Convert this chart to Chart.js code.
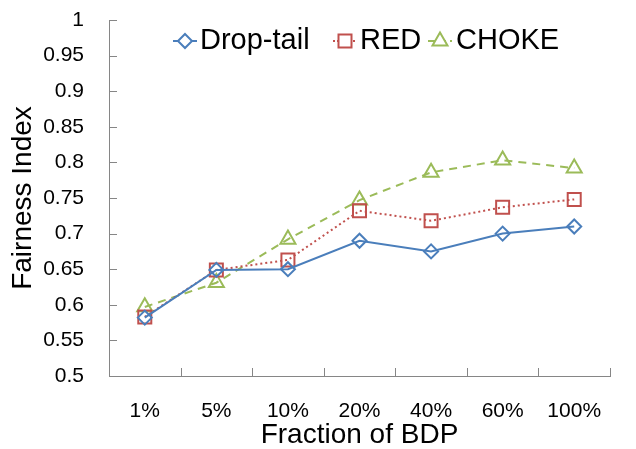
<!DOCTYPE html>
<html>
<head>
<meta charset="utf-8">
<script src="https://cdn.jsdelivr.net/npm/chart.js@4/dist/chart.umd.min.js"></script>
<style>
  html, body { margin: 0; padding: 0; background: #fff; }
  #wrap { width: 636px; height: 449px; }
</style>
</head>
<body>
<div id="wrap"><canvas id="myChart" width="636" height="449"></canvas></div>
<script>
/* data */
var fractions = ['1%', '5%', '10%', '20%', '40%', '60%', '100%'];
var dropTail = [0.582, 0.649, 0.650, 0.690, 0.675, 0.700, 0.710];
var red      = [0.583, 0.649, 0.663, 0.732, 0.718, 0.737, 0.748];
var choke    = [0.597, 0.631, 0.692, 0.747, 0.786, 0.803, 0.792];
var seriesNames = ['Drop-tail', 'RED', 'CHOKE'];

var blue = '#4a7ebb';
var redC = '#c0504d';
var green = '#9bbb59';
var axisGray = '#868686';
var fontName = "'Liberation Sans', Arial, sans-serif";

/* tick marks that point into the plot, like the original */
var innerTicks = {
    id: 'innerTicks',
    afterDraw: function(chart) {
        var ctx = chart.ctx;
        var a = chart.chartArea;
        var y = chart.scales.y;
        ctx.save();
        ctx.strokeStyle = axisGray;
        ctx.lineWidth = 1;
        ctx.beginPath();
        y.ticks.forEach(function(t) {
            var py = Math.round(y.getPixelForValue(t.value)) + 0.5;
            ctx.moveTo(a.left, py);
            ctx.lineTo(a.left + 8, py);
        });
        var step = (a.right - a.left) / fractions.length;
        for (var i = 0; i <= fractions.length; i++) {
            var px = Math.round(a.left + i * step) + 0.5;
            ctx.moveTo(px, a.bottom);
            ctx.lineTo(px, a.bottom - 8);
        }
        ctx.stroke();
        ctx.restore();
    }
};

/* legend inside the plot, line + marker + text */
var innerLegend = {
    id: 'innerLegend',
    afterDraw: function(chart) {
        var ctx = chart.ctx;
        var items = [
            {c: blue, dash: [], mark: 'diamond', mx: 185, tx: 200},
            {c: redC, dash: [2, 2], mark: 'square', mx: 345, tx: 360},
            {c: green, dash: [7, 4], mark: 'triangle', mx: 440, tx: 456}
        ];
        var ly = 41;
        ctx.save();
        items.forEach(function(it, i) {
            ctx.strokeStyle = it.c;
            ctx.lineWidth = 2;
            ctx.setLineDash(it.dash);
            ctx.beginPath();
            ctx.moveTo(it.mx - 12, ly);
            ctx.lineTo(it.mx + 12, ly);
            ctx.stroke();
            ctx.setLineDash([]);
            ctx.beginPath();
            if (it.mark == 'diamond') {
                ctx.moveTo(it.mx, ly - 7);
                ctx.lineTo(it.mx + 7, ly);
                ctx.lineTo(it.mx, ly + 7);
                ctx.lineTo(it.mx - 7, ly);
                ctx.closePath();
            } else if (it.mark == 'square') {
                ctx.rect(it.mx - 6.5, ly - 6.5, 13, 13);
            } else {
                ctx.moveTo(it.mx, ly - 8.5);
                ctx.lineTo(it.mx + 7.5, ly + 4.5);
                ctx.lineTo(it.mx - 7.5, ly + 4.5);
                ctx.closePath();
            }
            ctx.fillStyle = '#fff';
            ctx.fill();
            ctx.stroke();
            ctx.fillStyle = '#000';
            ctx.font = '29px ' + fontName;
            ctx.textBaseline = 'middle';
            ctx.textAlign = 'left';
            ctx.fillText(seriesNames[i], it.tx, ly);
        });
        ctx.restore();
    }
};

var ctx = document.getElementById('myChart');

var myChart = new Chart(ctx, {
    type: 'line',
    data: {
        labels: fractions,
        datasets: [{
            label: seriesNames[0],
            data: dropTail,
            borderColor: blue,
            borderWidth: 2,
            pointStyle: 'rectRot',
            pointRadius: 7,
            pointBorderWidth: 2,
            pointBorderColor: blue,
            pointBackgroundColor: 'rgba(255,255,255,0)',
            tension: 0
        }, {
            label: seriesNames[1],
            data: red,
            borderColor: redC,
            borderWidth: 2,
            borderDash: [2, 3],
            pointStyle: 'rect',
            pointRadius: 9.2,
            pointBorderWidth: 2,
            pointBorderColor: redC,
            pointBackgroundColor: 'rgba(255,255,255,0)',
            tension: 0
        }, {
            label: seriesNames[2],
            data: choke,
            borderColor: green,
            borderWidth: 2,
            borderDash: [8, 6],
            pointStyle: 'triangle',
            pointRadius: 8.7,
            pointBorderWidth: 2,
            pointBorderColor: green,
            pointBackgroundColor: 'rgba(255,255,255,0)',
            tension: 0
        }]
    },
    options: {
        responsive: false,
        animation: false,
        layout: { padding: { left: 0, right: 26, top: 20, bottom: 0 } },
        plugins: {
            legend: { display: false },
            tooltip: { enabled: false }
        },
        scales: {
            x: {
                offset: true,
                grid: { display: false },
                border: { display: true, color: axisGray, width: 1 },
                ticks: {
                    color: '#000',
                    padding: 15,
                    maxRotation: 0,
                    font: { family: fontName, size: 21 }
                },
                title: {
                    display: true,
                    text: 'Fraction of BDP',
                    color: '#000',
                    padding: { top: 0, bottom: 0 },
                    font: { family: fontName, size: 28, lineHeight: 1 }
                },
                afterFit: function(scale) { scale.height = 73; }
            },
            y: {
                min: 0.5,
                max: 1,
                grid: { display: false },
                border: { display: true, color: axisGray, width: 1 },
                ticks: {
                    stepSize: 0.05,
                    color: '#000',
                    padding: 17,
                    font: { family: fontName, size: 21 },
                    callback: function(v) { return String(Number(v.toFixed(2))); }
                },
                title: {
                    display: true,
                    text: 'Fairness Index',
                    color: '#000',
                    padding: { top: 9, bottom: 0 },
                    font: { family: fontName, size: 28, lineHeight: 1 }
                },
                afterFit: function(scale) {
                    scale.width = 109;
                    scale.paddingTop = 0;
                    scale.paddingBottom = 0;
                }
            }
        }
    },
    plugins: [innerTicks, innerLegend]
});
</script>
</body>
</html>
